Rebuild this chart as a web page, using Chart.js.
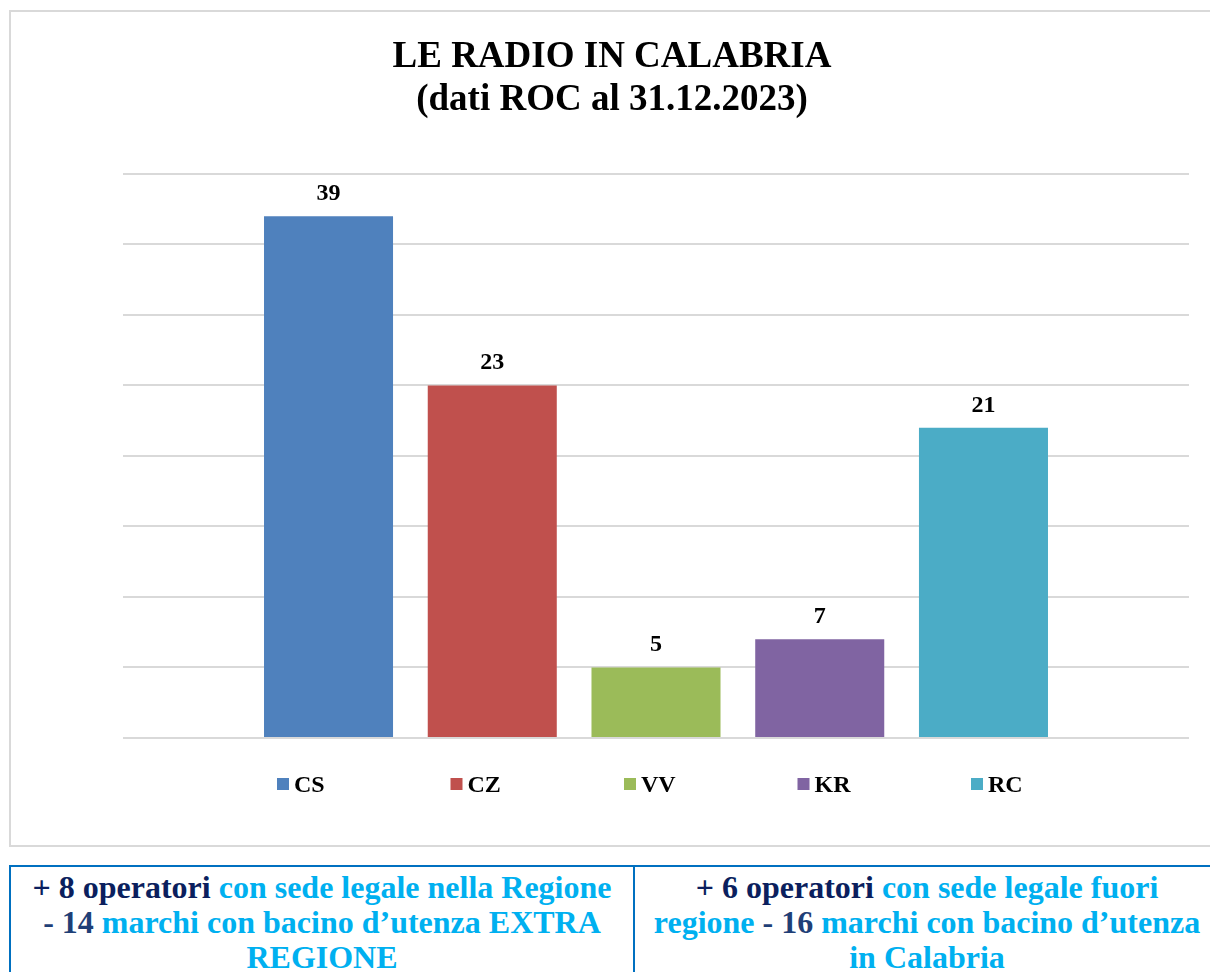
<!DOCTYPE html>
<html><head><meta charset="utf-8">
<script src="https://cdn.jsdelivr.net/npm/chart.js@4/dist/chart.umd.min.js"></script>
<style>
html,body{margin:0;padding:0;overflow:hidden;background:#fff;width:1210px;height:972px;}
#frame{position:absolute;left:9px;top:10px;width:1220px;height:837px;box-sizing:border-box;border:2px solid #d9d9d9;}
#wrap{position:absolute;left:0;top:0;width:1210px;height:850px;}
.cell{position:absolute;top:865px;height:140px;box-sizing:border-box;border:2px solid #0070c0;text-align:center;font:bold 32px 'Liberation Serif','Times New Roman',serif;line-height:35px;padding-top:3px;white-space:nowrap;color:#00b0f0;}
.dk{color:#0b1f5e}
.md{color:#1f3f77}
</style></head><body>
<div id="frame"></div>
<div id="wrap"><canvas id="c"></canvas></div>
<div class="cell" style="left:9px;width:626px;"><span class="dk">+ 8 operatori</span> con sede legale nella Regione<br><span class="md">- 14</span> marchi con bacino d’utenza EXTRA<br>REGIONE</div>
<div class="cell" style="left:633px;width:588px;"><span class="dk">+ 6 operatori</span> con sede legale fuori<br>regione <span class="md">- 16</span> marchi con bacino d’utenza<br>in Calabria</div>
<script>
const categories = ['CS', 'CZ', 'VV', 'KR', 'RC'];
const barValues = [37, 25, 5, 7, 22];
const valueLabels = ['39', '23', '5', '7', '21'];
const barColors = ['#4f81bd', '#c0504d', '#9bbb59', '#8064a2', '#4bacc6'];
const yTicks = [0, 5, 10, 15, 20, 25, 30, 35, 40];
const titleLines = ['LE RADIO IN CALABRIA', '(dati ROC al 31.12.2023)'];

const SERIF = "'Liberation Serif', 'Times New Roman', serif";

const overlay = {
  id: 'overlay',
  afterDatasetsDraw(chart) {
    const ctx = chart.ctx;
    ctx.save();
    ctx.font = 'bold 24px ' + SERIF;
    ctx.fillStyle = '#000';
    ctx.textAlign = 'center';
    ctx.textBaseline = 'alphabetic';
    chart.data.datasets.forEach((ds, i) => {
      const el = chart.getDatasetMeta(i).data[0];
      ctx.fillText(valueLabels[i], el.x, el.y - 16);
    });
    const ca = chart.chartArea;
    const cx = (ca.left + ca.right) / 2;
    const step = 173.5;
    const x0 = cx - 379;
    ctx.textAlign = 'left';
    chart.data.datasets.forEach((ds, i) => {
      const x = x0 + i * step;
      ctx.fillStyle = ds.backgroundColor;
      ctx.fillRect(x, ca.bottom + 40, 12, 12);
      ctx.fillStyle = '#000';
      ctx.fillText(ds.label, x + 17, ca.bottom + 53.5);
    });
    ctx.restore();
  }
};

new Chart(document.getElementById('c'), {
  type: 'bar',
  data: {
    labels: [''],
    datasets: categories.map((c, i) => ({
      label: c,
      data: [barValues[i]],
      backgroundColor: barColors[i],
      categoryPercentage: 0.768,
      barPercentage: 0.788
    }))
  },
  options: {
    responsive: true,
    maintainAspectRatio: false,
    animation: false,
    layout: { padding: { left: 14, right: 0, top: 0, bottom: 112 } },
    plugins: {
      legend: { display: false },
      tooltip: { enabled: false },
      title: {
        display: true,
        text: titleLines,
        color: '#000',
        font: { family: SERIF, size: 37, weight: 'bold', lineHeight: 1.162 },
        padding: { top: 36, bottom: 52 }
      }
    },
    scales: {
      x: { display: false },
      y: {
        min: yTicks[0],
        max: yTicks[yTicks.length - 1],
        ticks: { display: false, stepSize: yTicks[1] - yTicks[0] },
        grid: { color: '#d9d9d9', lineWidth: 2, drawTicks: false },
        border: { display: false },
        afterFit(s) { s.width = 109; }
      },
      y2: {
        position: 'right',
        display: true,
        ticks: { display: false },
        grid: { display: false },
        border: { display: false },
        afterFit(s) { s.width = 21; }
      }
    }
  },
  plugins: [overlay]
});
</script>
</body></html>
